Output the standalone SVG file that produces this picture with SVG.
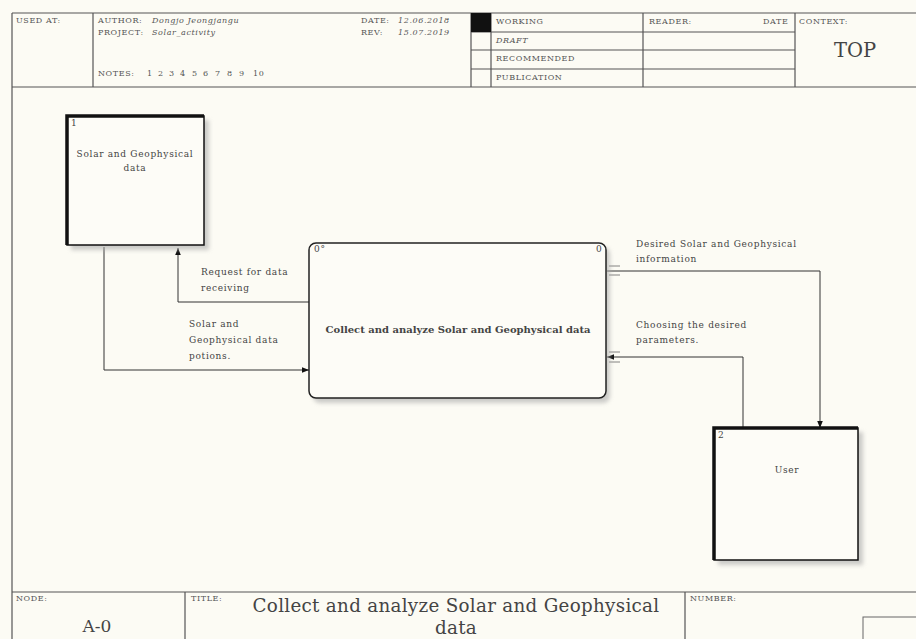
<svg xmlns="http://www.w3.org/2000/svg" width="916" height="639" viewBox="0 0 916 639">
<defs>
<marker id="arr" viewBox="0 0 10 10" refX="10" refY="5" markerWidth="7" markerHeight="7" orient="auto" markerUnits="userSpaceOnUse">
<path d="M0,1 L10,5 L0,9 z" fill="#111"/>
</marker>
<filter id="sh" x="-10%" y="-10%" width="130%" height="130%">
<feGaussianBlur stdDeviation="2"/>
</filter>
</defs>
<style>
.frame{stroke:#555;stroke-width:1.2;fill:none}
.t{font-family:"DejaVu Serif",serif;font-size:8px;letter-spacing:0.6px;fill:#555}
.ti{font-family:"DejaVu Serif",serif;font-size:8px;letter-spacing:0.6px;fill:#555;font-style:italic}
.lbl{font-family:"DejaVu Serif",serif;font-size:9px;letter-spacing:0.7px;fill:#444}
.big{font-family:"DejaVu Serif",serif;fill:#444}
.conn{stroke:#333;stroke-width:1;fill:none}
.shadow{fill:#aaa;opacity:0.6}
</style>
<rect x="0" y="0" width="916" height="639" fill="#fcfbf4"/>
<g id="header">
<line class="frame" x1="12" y1="13" x2="916" y2="13"/>
<line class="frame" x1="12" y1="87" x2="916" y2="87"/>
<line class="frame" x1="12" y1="13" x2="12" y2="639"/>
<line class="frame" x1="93" y1="13" x2="93" y2="87"/>
<line class="frame" x1="471" y1="13" x2="471" y2="87"/>
<line class="frame" x1="491" y1="13" x2="491" y2="87"/>
<line class="frame" x1="643" y1="13" x2="643" y2="87"/>
<line class="frame" x1="795" y1="13" x2="795" y2="87"/>
<line class="frame" x1="471" y1="32" x2="795" y2="32"/>
<line class="frame" x1="471" y1="50" x2="795" y2="50"/>
<line class="frame" x1="471" y1="69" x2="795" y2="69"/>
<rect x="471" y="13" width="20" height="19" fill="#111"/>
<text class="t" x="16" y="23">USED AT:</text>
<text class="t" x="98" y="23">AUTHOR:</text>
<text class="ti" x="152" y="23">Dongjo Jeongjangu</text>
<text class="t" x="98" y="35">PROJECT:</text>
<text class="ti" x="152" y="35">Solar_activity</text>
<text class="t" y="76"><tspan x="98">NOTES:</tspan><tspan x="147">1</tspan><tspan x="158">2</tspan><tspan x="169">3</tspan><tspan x="180">4</tspan><tspan x="192">5</tspan><tspan x="203">6</tspan><tspan x="215">7</tspan><tspan x="227">8</tspan><tspan x="239">9</tspan><tspan x="253">10</tspan></text>
<text class="t" x="361" y="23">DATE:</text>
<text class="ti" x="398" y="23" letter-spacing="1.5">12.06.2018</text>
<text class="t" x="361" y="35">REV:</text>
<text class="ti" x="398" y="35" letter-spacing="1.5">15.07.2019</text>
<text class="t" x="496" y="24">WORKING</text>
<text class="ti" x="496" y="43">DRAFT</text>
<text class="t" x="496" y="61">RECOMMENDED</text>
<text class="t" x="496" y="80">PUBLICATION</text>
<text class="t" x="649" y="24">READER:</text>
<text class="t" x="763" y="24">DATE</text>
<text class="t" x="799" y="24">CONTEXT:</text>
<text class="big" x="855" y="57" font-size="19.5" text-anchor="middle">TOP</text>
</g>
<g id="footer">
<line class="frame" x1="12" y1="592" x2="916" y2="592"/>
<line class="frame" x1="185" y1="592" x2="185" y2="639"/>
<line class="frame" x1="685" y1="592" x2="685" y2="639"/>
<rect x="863" y="617" width="60" height="30" fill="none" stroke="#666" stroke-width="1"/>
<text class="t" x="16" y="601">NODE:</text>
<text class="big" x="97" y="632" font-size="17" text-anchor="middle">A-0</text>
<text class="t" x="191" y="601">TITLE:</text>
<text class="big" x="456" y="612" font-size="18.3" letter-spacing="0.3" text-anchor="middle">Collect and analyze Solar and Geophysical</text>
<text class="big" x="456" y="634" font-size="18.3" letter-spacing="0.3" text-anchor="middle">data</text>
<text class="t" x="690" y="601">NUMBER:</text>
</g>
<g id="connectors">
<polyline class="conn" points="309,302 178,302 178,248" marker-end="url(#arr)"/>
<text class="lbl" x="201" y="275">Request for data</text>
<text class="lbl" x="201" y="291">receiving</text>
<polyline class="conn" points="104,247 104,370 309,370" marker-end="url(#arr)"/>
<text class="lbl" x="189" y="327">Solar and</text>
<text class="lbl" x="189" y="343">Geophysical data</text>
<text class="lbl" x="189" y="359">potions.</text>
<polyline class="conn" points="607,271 820,271 820,428" marker-end="url(#arr)"/>
<text class="lbl" x="636" y="247">Desired Solar and Geophysical</text>
<text class="lbl" x="636" y="262">information</text>
<polyline class="conn" points="743,428 743,357 607,357" marker-end="url(#arr)"/>
<text class="lbl" x="636" y="328">Choosing the desired</text>
<text class="lbl" x="636" y="343">parameters.</text>
<g stroke="#666" stroke-width="0.8">
<line x1="609" y1="266" x2="620" y2="266"/>
<line x1="609" y1="275" x2="620" y2="275"/>
<line x1="609" y1="352" x2="620" y2="352"/>
<line x1="609" y1="362" x2="620" y2="362"/>
</g>
</g>
<g id="node1">
<rect class="shadow" x="71" y="120" width="138" height="130" filter="url(#sh)"/>
<rect x="67" y="116" width="137" height="129" fill="#fdfcf7" stroke="#111" stroke-width="1.5"/>
<path d="M67,245 L67,116 L204,116" fill="none" stroke="#111" stroke-width="3.5"/>
<text class="lbl" x="71" y="126" font-size="7">1</text>
<text class="lbl" x="135" y="157" text-anchor="middle">Solar and Geophysical</text>
<text class="lbl" x="135" y="171" text-anchor="middle">data</text>
</g>
<g id="node0">
<rect class="shadow" x="313" y="247" width="297" height="156" rx="7" filter="url(#sh)"/>
<rect x="309" y="243" width="297" height="155" rx="7" fill="#fdfcf7" stroke="#222" stroke-width="1.5"/>
<text class="lbl" x="314" y="252" font-size="6">0°</text>
<text class="lbl" x="596" y="252" font-size="6">0</text>
<text class="big" x="458" y="333" font-size="10" font-weight="bold" fill="#222" text-anchor="middle">Collect and analyze Solar and Geophysical data</text>
</g>
<g id="node2">
<rect class="shadow" x="718" y="432" width="145" height="133" filter="url(#sh)"/>
<rect x="714" y="428" width="144" height="132" fill="#fdfcf7" stroke="#111" stroke-width="1.5"/>
<path d="M714,560 L714,428 L858,428" fill="none" stroke="#111" stroke-width="3.5"/>
<text class="lbl" x="718" y="438" font-size="7">2</text>
<text class="lbl" x="787" y="473" text-anchor="middle">User</text>
</g>
</svg>
